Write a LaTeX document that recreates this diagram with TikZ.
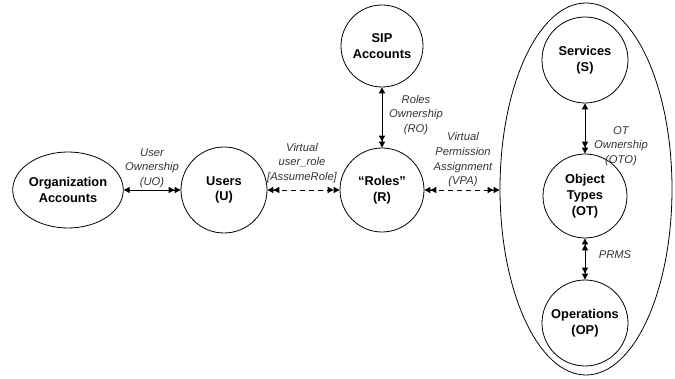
\documentclass[tikz,border=0pt]{standalone}
\usepackage{fontspec}
\setmainfont{Liberation Sans}
\usetikzlibrary{arrows.meta,shapes.geometric}
\begin{document}
\begin{tikzpicture}[x=1pt,y=-1pt,
  ent/.style={draw,line width=0.8pt,circle,inner sep=0pt,align=center,font=\fontsize{12.8}{15.8}\selectfont\bfseries},
  lab/.style={align=center,text=black!80,font=\fontsize{11.2}{14.6}\selectfont\itshape,inner sep=0pt},
  one/.tip={Triangle[length=6pt,width=6pt]},
  two/.tip={Triangle[length=6pt,width=6pt] Triangle[length=6pt,width=6pt]},
  rel/.style={line width=0.9pt},
  vrel/.style={line width=0.9pt,dash pattern=on 5pt off 4pt}]
\useasboundingbox (0,0) rectangle (675,379);
\node[ent,ellipse,minimum width=108pt,minimum height=76pt] (org) at (68,190) {Organization\\Accounts};
\node[ent,minimum size=86pt] (users) at (224,190) {Users\\(U)};
\node[ent,minimum size=84pt] (roles) at (382,190) {“Roles”\\(R)};
\node[ent,minimum size=82pt] (sip) at (382,46) {SIP\\Accounts};
\node[draw,line width=0.8pt,ellipse,minimum width=172pt,minimum height=372pt] (big) at (586,189) {};
\node[ent,minimum size=86pt] (serv) at (585,60) {Services\\(S)};
\node[ent,minimum size=84pt] (ot) at (585,196) {Object\\Types\\(OT)};
\node[ent,minimum size=86pt] (op) at (585,323) {Operations\\(OP)};
\draw[rel,{one}-{two}] (org) -- (users);
\draw[vrel,{two}-{two}] (users) -- (roles);
\draw[rel,{one}-{two}] (sip) -- (roles);
\draw[vrel,{two}-{two}] (roles) -- (big.west |- roles);
\draw[rel,{one}-{two}] (serv) -- (ot);
\draw[rel,{two}-{two}] (ot) -- (op);
\node[lab] (luo) at (152,168) {User\\Ownership\\(UO)};
\node[lab] (lur) at (302,163) {Virtual\\user\_role\\{[AssumeRole]}};
\node[lab] (lro) at (416,115) {Roles\\Ownership\\(RO)};
\node[lab] (lvpa) at (463,160) {Virtual\\Permission\\Assignment\\(VPA)};
\node[lab] (loto) at (621,146) {OT\\Ownership\\(OTO)};
\node[lab] (lprms) at (615,255) {PRMS};
\end{tikzpicture}
\end{document}
